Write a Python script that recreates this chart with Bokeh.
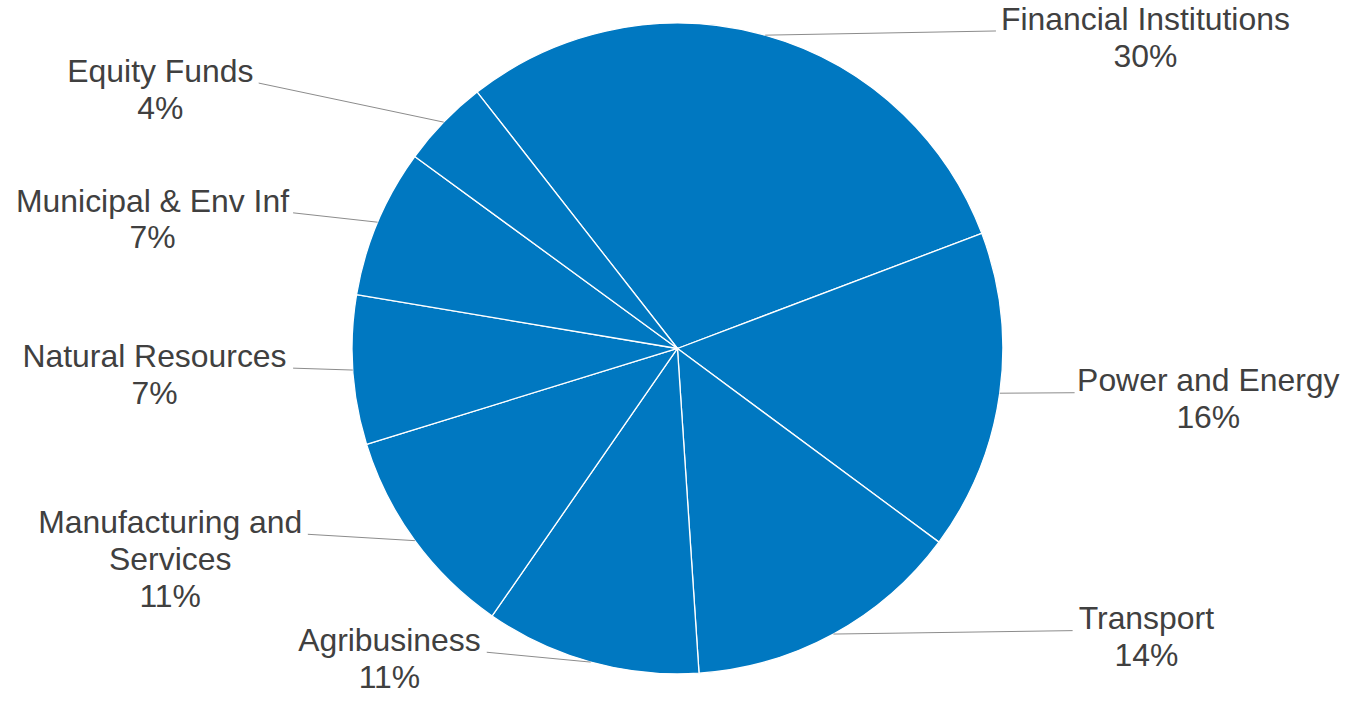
import math
from bokeh.plotting import figure
from bokeh.models import Range1d, ColumnDataSource
from bokeh.embed import file_html
from bokeh.resources import INLINE
from bokeh.core.properties import value

# ---------------- data ----------------
categories = ["Financial Institutions", "Power and Energy", "Transport", "Agribusiness",
              "Manufacturing and Services", "Natural Resources", "Municipal & Env Inf", "Equity Funds"]
shares = [29.8, 15.9, 13.8, 10.7, 10.6, 7.4, 7.4, 4.4]
label_lines = [["Financial Institutions"], ["Power and Energy"], ["Transport"], ["Agribusiness"],
               ["Manufacturing and", "Services"], ["Natural Resources"], ["Municipal & Env Inf"],
               ["Equity Funds"]]

# ---------------- layout (image pixel coords, y down) ----------------
H_IMG = 703
CX, CY, R = 681, 353, 331
START_DEG = 128.0
label_cx = [1157, 1221, 1158, 388, 165, 149, 147, 155]
label_base = [29, 397, 639, 661, 541, 372, 214, 82]
leader_x = [1005, 1085, 1083, 487, 305, 290, 290, 255]
LINE_H = 37.5
TEXT_SHIFT = 11.5   # rendered text sits this much below the given y

PIE_COLOR = "#0078C1"
TEXT_COLOR = "#404040"
LEADER_COLOR = "#8C8C8C"
FONT = "Liberation Sans"

W, H = 1349, 695
IMG_TOP, IMG_BOTTOM = -1.0, 706.0          # image rows shown
SCALE = H / (IMG_BOTTOM - IMG_TOP)
XSPAN = W / SCALE
XMID = 678.5
p = figure(width=W, height=H, output_backend="svg", toolbar_location=None,
           x_range=Range1d(XMID - XSPAN / 2, XMID + XSPAN / 2),
           y_range=Range1d(H_IMG - IMG_BOTTOM, H_IMG - IMG_TOP),
           min_border=0)
p.axis.visible = False
p.grid.visible = False
p.outline_line_color = None
p.background_fill_color = "white"


def yd(y):
    return H_IMG - y


total = sum(shares)
starts, ends, mids = [], [], []
cum = 0.0
for s in shares:
    a_start = START_DEG - cum / total * 360.0
    cum += s
    a_end = START_DEG - cum / total * 360.0
    starts.append(math.radians(a_end))
    ends.append(math.radians(a_start))
    mids.append(math.radians((a_start + a_end) / 2))

src = ColumnDataSource(dict(x=[CX] * len(shares), y=[yd(CY)] * len(shares),
                            start=starts, end=ends, cat=categories))
p.wedge(x="x", y="y", radius=R, start_angle="start", end_angle="end", source=src,
        fill_color=PIE_COLOR, line_color="white", line_width=1.3, direction="anticlock")

# leader lines
lx0, ly0, lx1, ly1 = [], [], [], []
for i, m in enumerate(mids):
    lx0.append(leader_x[i])
    ly0.append(yd(label_base[i] + 1))
    lx1.append(CX + R * math.cos(m))
    ly1.append(yd(CY) + R * math.sin(m))
p.segment(x0=lx0, y0=ly0, x1=lx1, y1=ly1, line_color=LEADER_COLOR, line_width=1)

# labels
font_px = 32.5 * SCALE
tx, ty, tt = [], [], []
for i, lines in enumerate(label_lines):
    all_lines = lines + [f"{round(shares[i])}%"]
    for j, ln in enumerate(all_lines):
        tx.append(label_cx[i])
        ty.append(yd(label_base[i] + j * LINE_H - TEXT_SHIFT))
        tt.append(ln)
p.text(x=tx, y=ty, text=tt, text_align="center", text_baseline="alphabetic",
       text_font=value(FONT), text_font_size=f"{font_px:.1f}px", text_color=TEXT_COLOR)

open("out.html", "w").write(file_html(p, INLINE))
